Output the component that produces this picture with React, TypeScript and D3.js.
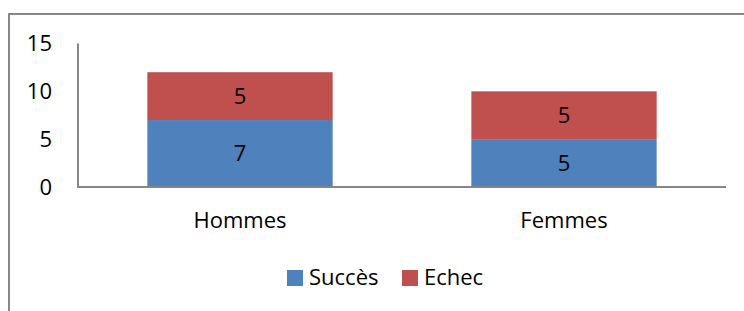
import * as d3 from 'd3';

const categories = ['Hommes', 'Femmes'];
const succes = [7, 5];
const echec = [5, 5];
const yTicks = [0, 5, 10, 15];
const seriesNames = ['Succès', 'Echec'];
const colors = ['#4F81BD', '#C0504D'];

export default function App() {
  const width = 744;
  const height = 311;
  const font = "'Open Sans', 'Liberation Sans', sans-serif";
  const fs = 22;

  const x = d3.scaleBand().domain(categories).range([78, 726]).paddingInner(0.428).paddingOuter(0.214);
  const y = d3.scaleLinear().domain([0, 15]).range([187, 43.5]);

  const rows = categories.map((c, i) => ({ cat: c, s: succes[i], e: echec[i] }));
  const stack = d3.stack<{ cat: string; s: number; e: number }>().keys(['s', 'e']);
  const layers = stack(rows);

  return (
    <svg
      width={width}
      height={height}
      style={{ position: 'absolute', left: 0, top: 0, fontFamily: font }}
    >
      <rect x={0} y={0} width={width} height={height} fill="#fff" />
      {/* outer chart frame */}
      <path d={`M9,${height} V14 H${width}`} fill="none" stroke="#878787" strokeWidth={2} />

      {/* bars */}
      {layers.map((layer, li) =>
        layer.map((d, i) => (
          <g key={`${li}-${i}`}>
            <rect
              x={x(categories[i])}
              y={y(d[1])}
              width={x.bandwidth()}
              height={y(d[0]) - y(d[1])}
              fill={colors[li]}
            />
            <text
              x={(x(categories[i]) || 0) + x.bandwidth() / 2}
              y={(y(d[0]) + y(d[1])) / 2}
              dy="0.36em"
              textAnchor="middle"
              fontSize={fs}
              fill="#000"
            >
              {d[1] - d[0]}
            </text>
          </g>
        ))
      )}

      {/* axes */}
      <line x1={78} x2={78} y1={y(15)} y2={y(0) + 1} stroke="#868686" strokeWidth={2} />
      <line x1={77} x2={726} y1={y(0)} y2={y(0)} stroke="#868686" strokeWidth={2} />

      {yTicks.map((t) => (
        <text key={t} x={52} y={y(t)} dy="0.36em" textAnchor="end" fontSize={fs} fill="#000">
          {t}
        </text>
      ))}

      {categories.map((c) => (
        <text
          key={c}
          x={(x(c) || 0) + x.bandwidth() / 2}
          y={228}
          textAnchor="middle"
          fontSize={fs}
          fill="#000"
        >
          {c}
        </text>
      ))}

      {/* legend */}
      {seriesNames.map((n, i) => {
        const lx = i === 0 ? 287 : 402;
        return (
          <g key={n}>
            <rect x={lx} y={270} width={16} height={16} fill={colors[i]} />
            <text x={lx + 22} y={285} fontSize={fs} fill="#000">
              {n}
            </text>
          </g>
        );
      })}
    </svg>
  );
}
